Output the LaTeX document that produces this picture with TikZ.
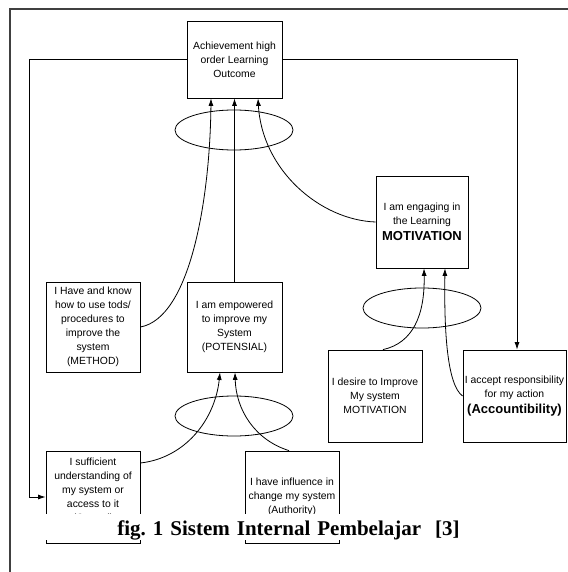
\documentclass[tikz,border=0pt]{standalone}
\usepackage{fontspec}
\setmainfont{Liberation Sans}
\newfontfamily\capfont{Liberation Serif}
\usetikzlibrary{arrows.meta}
\begin{document}
\begin{tikzpicture}[x=1pt,y=-1pt,
  box/.style={draw,line width=0.8pt,inner sep=0pt,align=center,
    font=\fontsize{10.4}{14}\selectfont},
  arr/.style={-{Latex[length=7.5pt,width=5pt]},line width=0.8pt},
  ring/.style={line width=0.8pt},
  frame/.style={line width=1.3pt,black!75}]
\useasboundingbox (0,0) rectangle (567,572);
% outer frame
\draw[frame] (10,590) -- (10,9) -- (590,9);

% boxes
\node[box,minimum width=95pt,minimum height=77pt] (top) at (234.5,59.5)
  {Achievement high\\order Learning\\Outcome};
\node[box,minimum width=94pt,minimum height=90pt] (meth) at (93,327)
  {I Have and know\\how to use tods/\\procedures to\\improve the\\system\\(METHOD)};
\node[box,minimum width=95pt,minimum height=90pt] (pot) at (234.5,327)
  {I am empowered\\to improve my\\System\\(POTENSIAL)};
\node[box,minimum width=92pt,minimum height=92pt] (mot) at (422,222)
  {I am engaging in\\the Learning\\[2pt]{\fontsize{13}{16}\selectfont\bfseries MOTIVATION}};
\node[box,minimum width=94pt,minimum height=92pt] (des) at (375,396)
  {I desire to Improve\\My system\\MOTIVATION};
\node[box,minimum width=103pt,minimum height=92pt] (acc) at (514.5,396)
  {I accept responsibility\\for my action\\[2pt]{\fontsize{13}{16}\selectfont\bfseries (Accountibility)}};
\node[box,minimum width=94pt,minimum height=92pt] (suf) at (93,497)
  {I sufficient\\understanding of\\my system or\\access to it\\(Control)\\~};
\node[box,minimum width=94pt,minimum height=92pt] (inf) at (292,497)
  {I have influence in\\change my system\\(Authority)};

% grouping ellipses
\draw[ring] (234,130) ellipse [x radius=59, y radius=20];
\draw[ring] (422,308) ellipse [x radius=59, y radius=20];
\draw[ring] (234,416) ellipse [x radius=59, y radius=20];

% connectors into the top box
\draw[arr] (meth.east) .. controls (190,318) and (210,200) .. (211,0 |- top.south);
\draw[arr] (pot.north) -- (pot.north |- top.south);
\draw[arr] (mot.west) .. controls (320,220) and (262,170) .. (258,0 |- top.south);

% connectors into the motivation box
\draw[arr] (383,0 |- des.north) .. controls (413,343) and (425,315) .. (424,0 |- mot.south);
\draw[arr] (acc.west) .. controls (447,385) and (444,330) .. (445,0 |- mot.south);

% connectors into the potensial box
\draw[arr] (suf.east |- 0,463) .. controls (185,458) and (215,420) .. (220,0 |- pot.south);
\draw[arr] (289,0 |- inf.north) .. controls (255,440) and (236,410) .. (235,0 |- pot.south);

% feedback lines
\draw[arr] (top.west) -- (top.west -| 29,0) |- (suf.west);
\draw[arr] (top.east) -| (517,0 |- acc.north);

% caption
\node[fill=white,inner sep=0pt,anchor=base,text width=497pt,align=center,
  text height=21pt,text depth=5pt,
  font=\fontsize{21}{24}\capfont\bfseries\frenchspacing] (cap) at (288.5,535)
  {fig. 1 Sistem Internal Pembelajar\ \ [3]};
\end{tikzpicture}
\end{document}
